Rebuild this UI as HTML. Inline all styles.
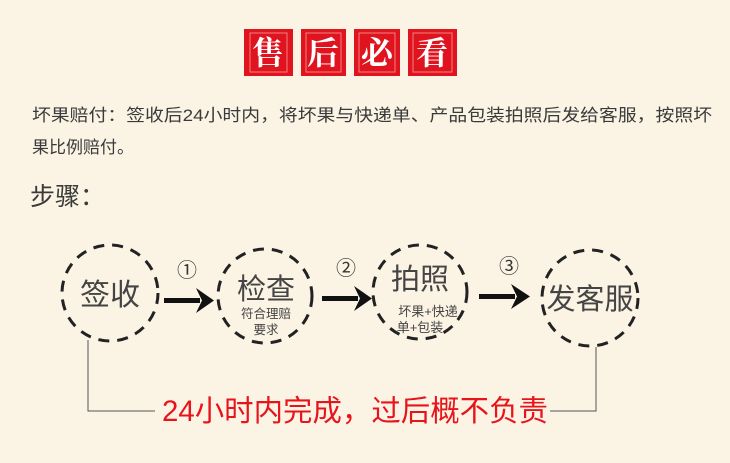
<!DOCTYPE html>
<html><head><meta charset="utf-8"><style>
html,body{margin:0;padding:0;background:#fbf4e5;}
body{width:730px;height:463px;position:relative;overflow:hidden;font-family:"Liberation Sans","Noto Sans CJK SC",sans-serif;}
.t{position:absolute;white-space:nowrap;color:#3a3a3a;}
</style></head><body>
<svg width="730" height="463" style="position:absolute;left:0;top:0" font-family="Liberation Sans, Noto Sans CJK SC, sans-serif">
<g fill="#e0141e">
<rect x="244" y="29" width="49" height="47"/><rect x="301" y="29" width="45" height="47"/><rect x="354" y="29" width="46" height="47"/><rect x="408" y="29" width="49" height="47"/>
</g>
<g fill="none" stroke="#f08080" stroke-width="1">
<rect x="250" y="33" width="37" height="39"/><rect x="306" y="33" width="35" height="39"/><rect x="359" y="33" width="36" height="39"/><rect x="413" y="33" width="39" height="39"/>
</g>
<g fill="#fff" font-size="32" font-weight="bold" text-anchor="middle" font-family="Noto Serif CJK SC, serif">
<text x="268" y="64">售</text><text x="323" y="64">后</text><text x="377" y="64">必</text><text x="432" y="64">看</text>
</g>
<g fill="none" stroke="#222" stroke-width="3" stroke-dasharray="11,8">
<circle cx="110" cy="293" r="48"/><circle cx="265" cy="296" r="47"/><circle cx="420" cy="292" r="47"/><circle cx="590" cy="298" r="48"/>
</g>
<g fill="none" stroke="#555" stroke-width="1">
<polyline points="88,340 88,411 155,411"/><polyline points="550,411 596,411 596,347"/>
</g>
<g fill="#111">
<rect x="164" y="298" width="36" height="5"/><polygon points="196,288 214,300.5 196,313 202,300.5"/>
<rect x="322" y="296" width="36" height="5"/><polygon points="354,286 372,298.5 354,311 360,298.5"/>
<rect x="479" y="294" width="36" height="5"/><polygon points="511,284 530,296.5 511,309 517,296.5"/>
</g>
<g fill="#333" font-size="20" text-anchor="middle">
<text x="187" y="277">①</text><text x="346" y="275">②</text><text x="509" y="273">③</text>
</g>
<g fill="#444" text-anchor="middle">
<text x="110" y="305" font-size="30">签收</text>
<text x="266" y="299" font-size="29">检查</text>
<text x="266" y="318" font-size="12.5">符合理赔</text>
<text x="266" y="334" font-size="12.5">要求</text>
<text x="420" y="289" font-size="29">拍照</text>
<text x="428" y="316" font-size="13">坏果+快递</text>
<text x="420" y="332" font-size="13">单+包装</text>
<text x="590" y="309" font-size="29">发客服</text>
</g>
<text x="162" y="421" font-size="29.5" fill="#e8141c" textLength="386" lengthAdjust="spacingAndGlyphs">24小时内完成，过后概不负责</text>
<text x="32" y="121" font-size="17" fill="#3a3a3a" textLength="680" lengthAdjust="spacingAndGlyphs">坏果赔付：签收后24小时内，将坏果与快递单、产品包装拍照后发给客服，按照坏</text>
<text x="32" y="153" font-size="17" fill="#3a3a3a">果比例赔付。</text>
<text x="30" y="205" font-size="25" fill="#3a3a3a">步骤：</text>
</svg>
</body></html>
